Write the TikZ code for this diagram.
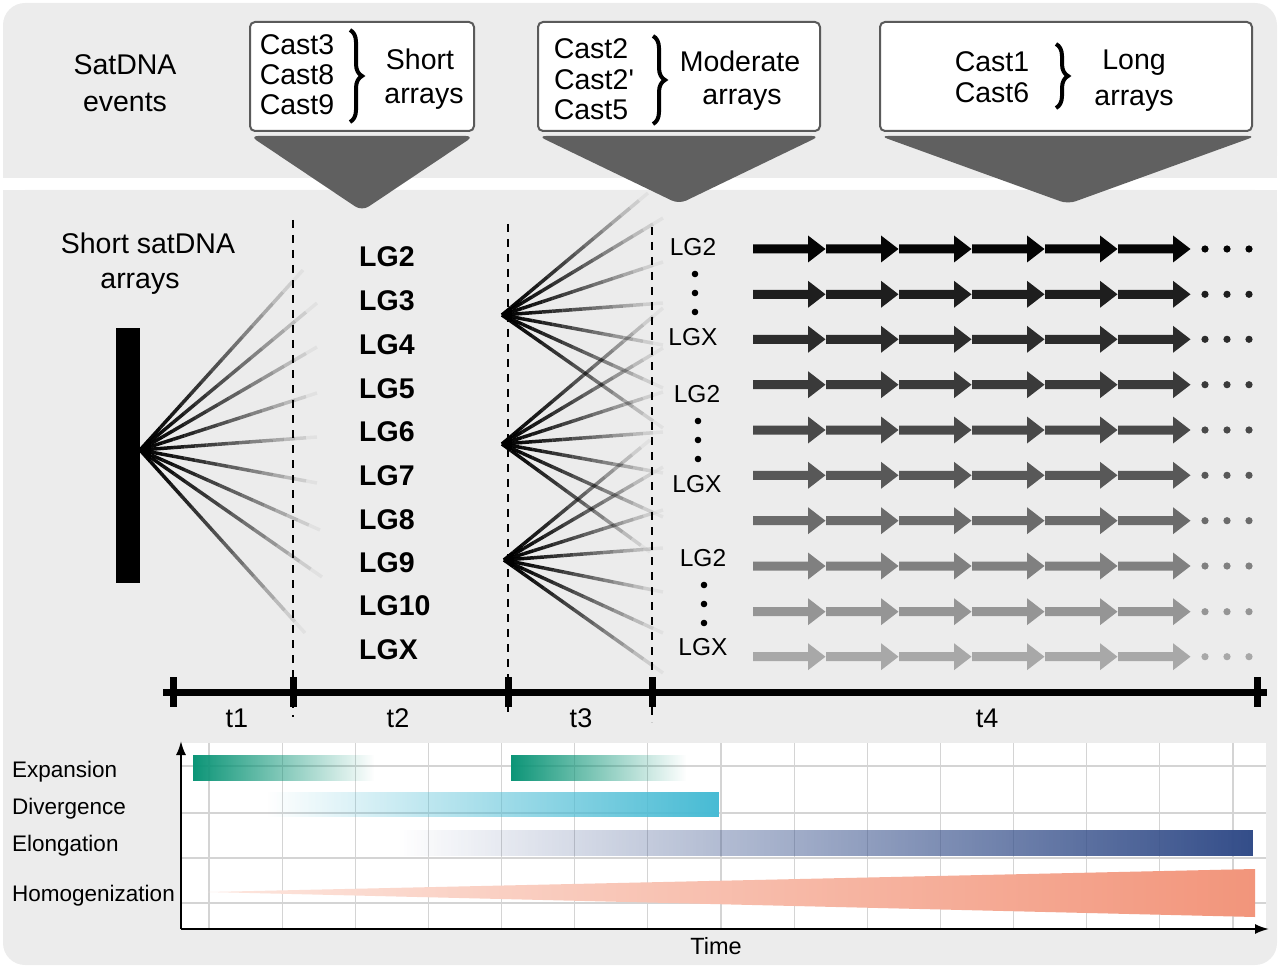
\documentclass[tikz,border=0pt]{standalone}
\usepackage{fontspec}
\setmainfont{Liberation Sans}
\usetikzlibrary{calc,arrows.meta,decorations.pathreplacing,fadings}
\definecolor{panel}{HTML}{ECECEC}
\definecolor{funnel}{HTML}{606060}
\definecolor{boxline}{HTML}{5A5A5A}
\definecolor{expc}{HTML}{0C9577}
\definecolor{divc}{HTML}{47BBD4}
\definecolor{elc}{HTML}{334D89}
\definecolor{homL}{HTML}{FDE6DE}
\definecolor{homR}{HTML}{F2957B}
\definecolor{gridc}{HTML}{D4D4D4}
\tikzfading[name=fadeexp, left color=transparent!0, middle color=transparent!40, right color=transparent!100]
\tikzfading[name=fadein, left color=transparent!100, right color=transparent!0]
\newcommand\fadeln[2]{%
  \foreach \s in {0,...,15}{%
    \pgfmathsetmacro\ta{\s/16}%
    \pgfmathsetmacro\tb{(\s+1)/16}%
    \pgfmathsetmacro\op{1-((\s+0.5)/16)^1.4}%
    \draw[fanline, opacity=\op] ($(#1)!\ta!(#2)$) -- ($(#1)!\tb!(#2)$);
  }}
\begin{document}
\begin{tikzpicture}[x=1pt,y=-1pt,
  font=\fontsize{28.5}{30}\selectfont,
  evbox/.style={draw=boxline, fill=white, rounded corners=5pt, line width=2pt, inner sep=0pt},
  txt/.style={inner sep=0pt, anchor=center},
  lgb/.style={inner sep=0pt, anchor=west, font=\fontsize{28.5}{30}\selectfont\bfseries},
  lgr/.style={inner sep=0pt, font=\fontsize{24.5}{26}\selectfont},
  brc/.style={decorate, decoration={brace, amplitude=12pt}, line width=4pt},
  fanline/.style={line width=3.5pt, black},
  dashv/.style={line width=2pt, dash pattern=on 8pt off 7pt},
  tick/.style={line width=7pt},
  clab/.style={inner sep=0pt, anchor=base west, font=\fontsize{22.5}{24}\selectfont},
  blockarr/.pic={\fill (0,-4.5) -- (55,-4.5) -- (55,-13.5) -- (72.5,0) -- (55,13.5) -- (55,4.5) -- (0,4.5) -- cycle;},
  ax/.style={line width=2pt, -{Latex[length=14pt,width=10pt]}}
]
\useasboundingbox (0,0) rectangle (1280,968);
% panels
\fill[panel, rounded corners=22pt] (3,3) rectangle (1277,178);
\fill[panel] (3,100) rectangle (1277,178);
\fill[panel, rounded corners=22pt] (3,190) rectangle (1277,965);
\fill[panel] (3,190) rectangle (1277,300);
% top row
\node[txt] (sat1) at (125,65) {SatDNA};
\node[txt] (sat2) at (125,102) {events};
\node[evbox, minimum width=224pt, minimum height=109pt] (box1) at (362,76.5) {};
\node[evbox, minimum width=282pt, minimum height=109pt] (box2) at (679,76.5) {};
\node[evbox, minimum width=372pt, minimum height=109pt] (box3) at (1066,76.5) {};
\node[txt] (c3) at (297,45) {Cast3};
\node[txt] (c8) at (297,75) {Cast8};
\node[txt] (c9) at (297,105) {Cast9};
\draw[brc] (350,30) -- (350,122);
\node[txt] (s1) at (420,59) {Short};
\node[txt] (s2) at (424,99) {arrays};
\node[txt] (c2) at (591,49) {Cast2};
\node[txt] (c2p) at (594,80) {Cast2\textquotesingle};
\node[txt] (c5) at (591,110) {Cast5};
\draw[brc] (653,36) -- (653,124);
\node[txt] (m1) at (740,61) {Moderate};
\node[txt] (m2) at (742,100) {arrays};
\node[txt] (c1) at (992,62) {Cast1};
\node[txt] (c6) at (992,93) {Cast6};
\draw[brc] (1056,44) -- (1056,108);
\node[txt] (l1) at (1134,63) {Long};
\node[txt] (l2) at (1134,101) {arrays};
\fill[funnel, rounded corners=8pt] (250,136) -- (474,136) -- (362,211) -- cycle;
\fill[funnel, rounded corners=8pt] (538,136) -- (820,136) -- (679,204) -- cycle;
\fill[funnel, rounded corners=8pt] (880,136) -- (1256,136) -- (1068,204) -- cycle;
% left part
\node[txt] (ss1) at (148,243) {Short satDNA};
\node[txt] (ss2) at (140,284) {arrays};
\node[fill=black, minimum width=24pt, minimum height=255pt, inner sep=0pt] (bar) at (128,455.5) {};
\coordinate (L0) at (140,450);
\foreach \px/\py [count=\k] in {303/270,317/303,317/347,317/393,317/437,317/483,320/530,322/577,305/633}{
  \coordinate (Le\k) at (\px,\py);
  \fadeln{L0}{Le\k}
}
\coordinate (F1) at (502,315);
\coordinate (F2) at (502,444);
\coordinate (F3) at (504,560);
\foreach \px/\py [count=\k] in {648/193,663/218,663/262,663/303,663/345,663/388,663/428}{
  \coordinate (Fa\k) at (\px,\py);
  \fadeln{F1}{Fa\k}
}
\foreach \px/\py [count=\k] in {663/308,663/348,663/392,663/432,663/473,663/517,650/552}{
  \coordinate (Fb\k) at (\px,\py);
  \fadeln{F2}{Fb\k}
}
\foreach \px/\py [count=\k] in {650/440,663/467,663/510,663/548,663/592,663/633,663/673}{
  \coordinate (Fc\k) at (\px,\py);
  \fadeln{F3}{Fc\k}
}
% LG labels
\foreach \py/\t [count=\k] in {257/LG2,301/LG3,345/LG4,389/LG5,432/LG6,476/LG7,520/LG8,563/LG9,606/LG10,650/LGX}{
  \node[lgb] (lg\k) at (359,\py) {\t};
}
% dashed lines
\coordinate (d1t) at (293,220); \coordinate (d1b) at (293,717);
\coordinate (d2t) at (508,224); \coordinate (d2b) at (508,717);
\coordinate (d3t) at (652,227); \coordinate (d3b) at (652,722);
\draw[dashv] (d1t) -- (d1b);
\draw[dashv] (d2t) -- (d2b);
\draw[dashv] (d3t) -- (d3b);
% right labels
\node[lgr] (r1a) at (693,247) {LG2};
\node[lgr] (r1b) at (693,337) {LGX};
\node[lgr] (r2a) at (697,394) {LG2};
\node[lgr] (r2b) at (697,484) {LGX};
\node[lgr] (r3a) at (703,558) {LG2};
\node[lgr] (r3b) at (703,647) {LGX};
\foreach \dx/\dy in {695/274,695/293,695/312,698/421,698/440,698/459,704/585,704/604,704/623}{
  \fill (\dx,\dy) circle (3.3pt);
}
% arrows
\foreach \ry/\rc [count=\r] in {249/050505,294.3/1E1E1E,339.3/2C2C2C,384.7/3A3A3A,430/494949,475.3/585858,520.7/6B6B6B,566/808080,611.7/959595,656.7/A8A8A8}{
  \definecolor{rowc}{HTML}{\rc}
  \foreach \k in {0,...,5}{
    \pic[rowc] (ar\r-\k) at ({753+73*\k},\ry) {blockarr};
  }
  \foreach \dx in {1205,1227,1249}{
    \fill[rowc] (\dx,\ry) circle (3.6pt);
  }
}
% timeline
\coordinate (tl0) at (163,692); \coordinate (tl1) at (1267,692);
\draw[tick] (tl0) -- (tl1);
\foreach \tx [count=\k] in {173,293,508,652,1257}{
  \coordinate (tk\k a) at (\tx,677); \coordinate (tk\k b) at (\tx,707);
  \draw[tick] (tk\k a) -- (tk\k b);
}
\node[txt, font=\fontsize{27}{28}\selectfont] (t1) at (237,718) {t1};
\node[txt, font=\fontsize{27}{28}\selectfont] (t2) at (398,718) {t2};
\node[txt, font=\fontsize{27}{28}\selectfont] (t3) at (581,718) {t3};
\node[txt, font=\fontsize{27}{28}\selectfont] (t4) at (987,718) {t4};
% chart
\fill[white] (181,743) rectangle (1266,929);
\foreach \k in {0,...,14}{
  \draw[gridc, line width=1.2pt] ({209+73.14*\k},743) -- ({209+73.14*\k},929);
}
\foreach \gy in {766,813,858,903}{
  \draw[gridc, line width=1.2pt] (181,\gy) -- (1266,\gy);
}
\fill[expc, path fading=fadeexp] (193,755) rectangle (374,781);
\fill[expc, path fading=fadeexp] (511,755) rectangle (686,781);
\fill[divc, path fading=fadein] (268,792) rectangle (719,817);
\fill[elc, path fading=fadein] (400,830) rectangle (1254,856);
\shade[left color=homL, right color=homR] (208,892) -- (1255,869) -- (1255,917) -- cycle;
\coordinate (cO) at (181,929);
\coordinate (cY) at (181,741);
\coordinate (cX) at (1269,929);
\draw[ax] (cO) -- (cY);
\draw[ax] (cO) -- (cX);
\node[clab] (e1) at (12,777) {Expansion};
\node[clab] (e2) at (12,814) {Divergence};
\node[clab] (e3) at (12,851) {Elongation};
\node[clab] (e4) at (12,901) {Homogenization};
\node[txt, font=\fontsize{23.5}{25}\selectfont] (time) at (716,946) {Time};
\end{tikzpicture}
\end{document}
